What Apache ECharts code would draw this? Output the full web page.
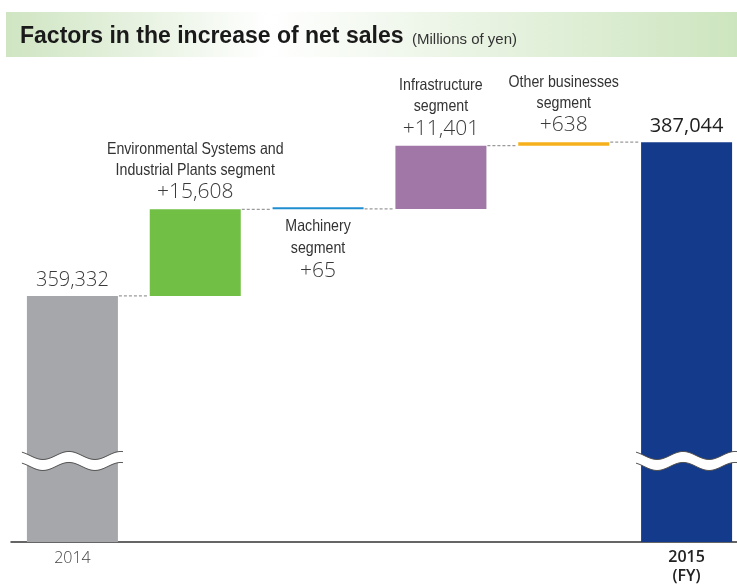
<!DOCTYPE html>
<html>
<head>
<meta charset="utf-8">
<script src="https://cdn.jsdelivr.net/npm/echarts@6/dist/echarts.min.js"></script>
<style>
  html, body { margin: 0; padding: 0; background: #ffffff; }
  #chart { width: 737px; height: 585px; }
</style>
</head>
<body>
<div id="chart"></div>
<script>
// Net sales bridge: FY2014 total, segment increases, FY2015 total (millions of yen)
const tickLabels = ['2014', '', '', '', '', '2015'];
const segmentNames = [
  ['Environmental Systems and', 'Industrial Plants segment'],
  ['Machinery', 'segment'],
  ['Infrastructure', 'segment'],
  ['Other businesses', 'segment']
];
const startValue = 359332;
const endValue = 387044;
const increases = [15608, 65, 11401, 638];
// axis value where the broken-bar wave is drawn
const breakLevel = 329600;

const totalColors = ['#a6a7aa', '#143b8b'];
const segmentColors = ['#71bf45', '#1f8ecf', '#a077a7', '#f6b01b'];
const BAR_W = 91;
const LABEL_BELOW = 1; // the Machinery label sits under its thin bar
const NAME_FONT = '16.5px "Liberation Sans", Arial, sans-serif';
const VALUE_FONT = '300 21px "Open Sans", sans-serif';

const fmt = v => v.toLocaleString('en-US');

// running level after each bar
const levels = [startValue];
increases.forEach(d => levels.push(levels[levels.length - 1] + d));

const totalData = tickLabels.map((_, i) => {
  if (i === 0) return { value: startValue, itemStyle: { color: totalColors[0] },
    label: { show: true, fontWeight: 300, color: '#3a3a3a' } };
  if (i === tickLabels.length - 1) return { value: endValue, itemStyle: { color: totalColors[1] },
    label: { show: true, fontWeight: 400, color: '#1e1e1e' } };
  return 0;
});
const baseData = tickLabels.map((_, i) => (i >= 1 && i <= increases.length) ? levels[i - 1] : 0);
const deltaData = tickLabels.map((_, i) => {
  if (i < 1 || i > increases.length) return '-';
  return { value: increases[i - 1], itemStyle: { color: segmentColors[i - 1] } };
});
const connectorData = levels.map((lv, i) => [i, lv]);
const segmentLabelData = increases.map((_, k) => [k + 1, levels[k + 1], levels[k]]);
const breakData = [[0, breakLevel], [tickLabels.length - 1, breakLevel]];

function renderConnector(params, api) {
  const p = api.coord([api.value(0), api.value(1)]);
  const band = api.size([1, 0])[0];
  const x1 = p[0] + BAR_W / 2 + 1;
  const x2 = p[0] + band - BAR_W / 2 - 1;
  return {
    type: 'line',
    shape: { x1: x1, y1: p[1], x2: x2, y2: p[1] },
    style: { stroke: '#9a9a9a', lineWidth: 1.3, lineDash: [3, 2] }
  };
}

function labelText(txt, x, y, font, color, sx) {
  return {
    type: 'text', x: x, y: y, scaleX: sx,
    style: { text: txt, x: 0, y: 0, align: 'center', verticalAlign: 'middle', font: font, fill: color }
  };
}

function renderSegmentLabel(params, api) {
  const k = params.dataIndex;
  const top = api.coord([api.value(0), api.value(1)]);
  const bottom = api.coord([api.value(0), api.value(2)]);
  const cx = top[0];
  const ys = k === LABEL_BELOW
    ? [bottom[1] + 17, bottom[1] + 39, bottom[1] + 62]
    : [top[1] - 60, top[1] - 39, top[1] - 17];
  const names = segmentNames[k];
  return {
    type: 'group',
    children: [
      labelText(names[0], cx, ys[0], NAME_FONT, '#333', 0.86),
      labelText(names[1], cx, ys[1], NAME_FONT, '#333', 0.86),
      labelText('+' + fmt(increases[k]), cx, ys[2], VALUE_FONT, '#3a3a3a', 1)
    ]
  };
}

function renderBreak(params, api) {
  const c = api.coord([api.value(0), api.value(1)]);
  const left = c[0] - BAR_W / 2;
  const x0 = left - 5, x1 = c[0] + BAR_W / 2 + 5;
  const amp = 4, wl = 52, gap = 11;
  const top = [];
  for (let x = x0; x <= x1 + 0.01; x += 1) {
    const off = x - left - 16;
    top.push([x, c[1] - gap / 2 + amp * Math.cos(2 * Math.PI * off / wl)]);
  }
  const bot = top.map(p => [p[0], p[1] + gap]);
  const edge = { stroke: '#4a4a4a', lineWidth: 1, fill: null };
  return {
    type: 'group',
    children: [
      { type: 'polygon', shape: { points: top.concat(bot.slice().reverse()) }, style: { fill: '#ffffff' } },
      { type: 'polyline', shape: { points: top }, style: edge },
      { type: 'polyline', shape: { points: bot }, style: edge }
    ]
  };
}

const chart = echarts.init(document.getElementById('chart'), null, { renderer: 'canvas' });
chart.setOption({
  animation: false,
  backgroundColor: '#ffffff',
  graphic: [
    {
      type: 'rect', left: 6, top: 12, z: -1,
      shape: { width: 731, height: 45 },
      style: {
        fill: new echarts.graphic.LinearGradient(0, 0, 1, 0, [
          { offset: 0, color: '#cfe5c2' },
          { offset: 0.36, color: '#ffffff' },
          { offset: 1, color: '#cde5bf' }
        ])
      }
    },
    {
      type: 'text', x: 20, y: 37,
      style: { text: 'Factors in the increase of net sales', fill: '#1a1a1a', verticalAlign: 'middle',
        font: 'bold 23px "Liberation Sans", Arial, sans-serif' }
    },
    {
      type: 'text', x: 412, y: 40,
      style: { text: '(Millions of yen)', fill: '#333', verticalAlign: 'middle',
        font: '15px "Liberation Sans", Arial, sans-serif' }
    }
  ],
  grid: { left: 11, top: 98, width: 737, bottom: 43, outerBoundsMode: 'none', containLabel: false },
  xAxis: {
    type: 'category',
    data: tickLabels,
    axisTick: { show: false },
    axisLine: { lineStyle: { color: '#333', width: 1.5 } },
    axisLabel: {
      margin: 6,
      interval: 0,
      formatter: (v, i) => i === tickLabels.length - 1 ? '{b|' + v + '}\n{b|(FY)}' : '{a|' + v + '}',
      rich: {
        a: { fontFamily: '"Open Sans", sans-serif', fontWeight: 300, fontSize: 16, color: '#444', lineHeight: 20 },
        b: { fontFamily: '"Open Sans", sans-serif', fontWeight: 600, fontSize: 16, color: '#222', lineHeight: 19 }
      }
    }
  },
  yAxis: { type: 'value', min: 315000, max: 395000, show: false, splitLine: { show: false } },
  series: [
    {
      type: 'bar', stack: 'bridge', barWidth: BAR_W,
      data: totalData,
      label: { show: false, position: 'top', distance: 6, fontFamily: '"Open Sans", sans-serif',
        fontSize: 20, formatter: p => fmt(p.value) }
    },
    {
      type: 'bar', stack: 'bridge', barWidth: BAR_W,
      data: baseData,
      itemStyle: { color: 'rgba(0,0,0,0)' }
    },
    {
      type: 'bar', stack: 'bridge', barWidth: BAR_W, barMinHeight: 2,
      data: deltaData
    },
    { type: 'custom', renderItem: renderConnector, data: connectorData, z: 3, silent: true },
    { type: 'custom', renderItem: renderSegmentLabel, data: segmentLabelData, z: 3, silent: true },
    { type: 'custom', renderItem: renderBreak, data: breakData, z: 4, silent: true }
  ]
});
</script>
</body>
</html>
